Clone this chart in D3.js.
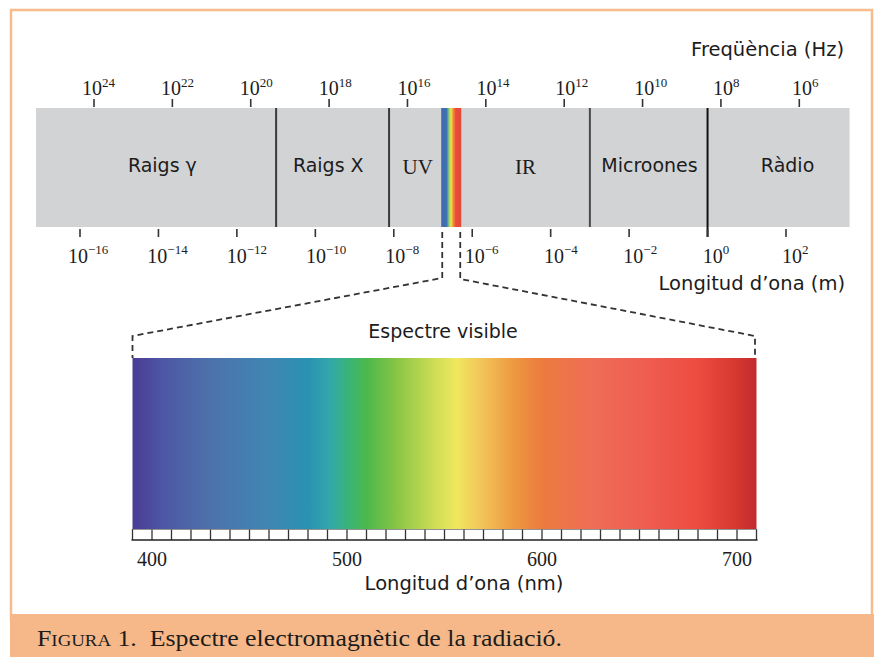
<!DOCTYPE html>
<html><head><meta charset="utf-8">
<script src="https://cdn.jsdelivr.net/npm/d3@7"></script>
<style>body{margin:0;background:#fff}svg{display:block}</style>
</head><body>
<script>
// ---- data ----
const freqExponents = [24, 22, 20, 18, 16, 14, 12, 10, 8, 6];
const waveExponents = [-16, -14, -12, -10, -8, -6, -4, -2, 0, 2];
const bandNames = ["Raigs γ", "Raigs X", "UV", "IR", "Microones", "Ràdio"];
const bandLabelLogL = [-13.9, -9.67, -7.39, -4.64, -1.48, 2.04];
const bandSerif = [false, false, true, true, false, false];
const bandBoundsLogL = [-11, -8.12, -3, 0];
const bandBoundColors = ["#3a3a3a", "#3a3a3a", "#4a4a4a", "#111"];
const barExtentLogL = [-17.12, 3.62];
const visibleStripLogL = [-6.79, -6.28];
const stripOffsets = [0, 0.27, 0.34, 0.42, 0.5, 0.58, 0.72, 1];
const stripColors = ["#3f68b0", "#3f74b0", "#5db0a0", "#b9d84a", "#f2e04c", "#f29a3e", "#e94e38", "#e4473a"];
const nmLabels = [400, 500, 600, 700];
const nmTicks = [390,400,410,420,430,440,450,460,470,480,490,500,510,520,530,540,550,560,570,580,590,600,610,620,630,640,650,660,670,680,690,700,710];
const nmExtent = [390, 710];
const spectrumNm = [390, 405, 430, 460, 480, 492, 500, 510, 525, 545, 556, 568, 585, 600, 625, 655, 680, 700, 710];
const spectrumColors = ["#4a3b96","#4d56a4","#4d72ab","#3f86b3","#2a92b3","#33a8a8","#38b37c","#4cb84b","#86c545","#cfdd56","#efe85e","#f2c75a","#ee9a41","#ec7b3e","#ee6e56","#ef5c50","#ec4c40","#d5372f","#c22b2e"];

const W = 874, H = 657;
const svg = d3.select("body").append("svg").attr("width", W).attr("height", H);

// scales
const xFreq = d3.scaleLinear().domain([24, 6]).range([94, 799.3]);
const xFreqLabel = d3.scaleLinear().domain([24, 6]).range([82, 792]);
const xWave = d3.scaleLinear().domain([-16, 2]).range([80, 786]);
const xWaveLabel = d3.scaleLinear().domain([-16, 2]).range([68, 782]);
const xNm = d3.scaleLinear().domain([400, 700]).range([152, 737]);
const colorNm = d3.scaleLinear().domain(spectrumNm).range(spectrumColors);

const sans = "'DejaVu Sans', Verdana, sans-serif";
const serif = "'Liberation Serif', 'Times New Roman', serif";
const ink = "#1c1c1c";

// frame
const frameCol = "#f7bb8c";
svg.append("rect").attr("x", 11).attr("y", 10).attr("width", 861).attr("height", 610)
  .attr("fill", "#fff").attr("stroke", frameCol).attr("stroke-width", 2.5);
svg.append("rect").attr("x", 10).attr("y", 614).attr("width", 864).attr("height", 43).attr("fill", "#f6b888");

// defs
const defs = svg.append("defs");
const gStrip = defs.append("linearGradient").attr("id", "strip");
gStrip.selectAll("stop").data(stripOffsets).join("stop")
  .attr("offset", d => d).attr("stop-color", (d, i) => stripColors[i]);
const gSpec = defs.append("linearGradient").attr("id", "spec");
gSpec.selectAll("stop").data(spectrumNm).join("stop")
  .attr("offset", d => (d - nmExtent[0]) / (nmExtent[1] - nmExtent[0]))
  .attr("stop-color", d => colorNm(d));

// EM bar
const barTop = 108, barBot = 227;
svg.append("rect").attr("x", xWave(barExtentLogL[0])).attr("y", barTop)
  .attr("width", xWave(barExtentLogL[1]) - xWave(barExtentLogL[0])).attr("height", barBot - barTop)
  .attr("fill", "#d2d3d5");
svg.append("rect").attr("x", xWave(visibleStripLogL[0])).attr("y", barTop)
  .attr("width", xWave(visibleStripLogL[1]) - xWave(visibleStripLogL[0])).attr("height", barBot - barTop)
  .attr("fill", "url(#strip)");

// band boundaries
svg.selectAll(".bound").data(bandBoundsLogL).join("line")
  .attr("x1", d => xWave(d)).attr("x2", d => xWave(d))
  .attr("y1", barTop).attr("y2", (d, i) => i === 3 ? 237 : barBot)
  .attr("stroke", (d, i) => bandBoundColors[i]).attr("stroke-width", 2);

// band labels
svg.selectAll(".band").data(bandNames).join("text")
  .attr("x", (d, i) => xWave(bandLabelLogL[i])).attr("y", (d, i) => bandSerif[i] ? 174 : 172)
  .attr("text-anchor", "middle")
  .attr("font-family", (d, i) => bandSerif[i] ? serif : sans)
  .attr("font-size", (d, i) => bandSerif[i] ? 21 : 19)
  .attr("fill", ink).text(d => d);

// top ticks
svg.selectAll(".ft").data(freqExponents).join("line")
  .attr("x1", d => xFreq(d)).attr("x2", d => xFreq(d)).attr("y1", 99).attr("y2", 107)
  .attr("stroke", "#333").attr("stroke-width", 1.6);
const ftl = svg.selectAll(".ftl").data(freqExponents).join("text")
  .attr("x", d => xFreqLabel(d)).attr("y", 95)
  .attr("font-family", serif).attr("font-size", 20).attr("fill", ink);
ftl.append("tspan").text("10");
ftl.append("tspan").attr("dy", -8).attr("font-size", 13).text(d => d);

// bottom ticks
svg.selectAll(".wt").data(waveExponents).join("line")
  .attr("x1", d => xWave(d)).attr("x2", d => xWave(d)).attr("y1", 229).attr("y2", 237)
  .attr("stroke", "#333").attr("stroke-width", 1.6);
const wtl = svg.selectAll(".wtl").data(waveExponents).join("text")
  .attr("x", d => xWaveLabel(d)).attr("y", 263)
  .attr("font-family", serif).attr("font-size", 20).attr("fill", ink);
wtl.append("tspan").text("10");
wtl.append("tspan").attr("dy", -9).attr("font-size", 13).text(d => d < 0 ? "\u2212" + Math.abs(d) : d);

// axis titles
svg.append("text").attr("x", 844).attr("y", 56).attr("text-anchor", "end")
  .attr("font-family", sans).attr("font-size", 19.5).attr("fill", ink).text("Freqüència (Hz)");
svg.append("text").attr("x", 845).attr("y", 290).attr("text-anchor", "end")
  .attr("font-family", sans).attr("font-size", 19.5).attr("fill", ink).text("Longitud d\u2019ona (m)");

// visible spectrum
const specTop = 358, specBot = 529, tickBot = 540;
const sx0 = xNm(nmExtent[0]), sx1 = xNm(nmExtent[1]);
svg.append("rect").attr("x", sx0).attr("y", specTop).attr("width", sx1 - sx0).attr("height", specBot - specTop)
  .attr("fill", "url(#spec)");

// dashed zoom lines
const zoomPaths = [
  [[xWave(visibleStripLogL[0]) + 1, 232], [xWave(visibleStripLogL[0]) + 1, 278], [sx0, 336], [sx0, specTop]],
  [[xWave(visibleStripLogL[1]) - 1, 232], [xWave(visibleStripLogL[1]) - 1, 279], [sx1 - 1.5, 336], [sx1 - 1.5, specTop]]
];
svg.selectAll(".zp").data(zoomPaths).join("path")
  .attr("d", d => d3.line()(d))
  .attr("stroke", "#333").attr("stroke-width", 1.8).attr("stroke-dasharray", "6,4").attr("fill", "none");

svg.append("text").attr("x", 443).attr("y", 338).attr("text-anchor", "middle")
  .attr("font-family", sans).attr("font-size", 19).attr("fill", ink).text("Espectre visible");

// spectrum tick scale
svg.selectAll(".nt").data(nmTicks).join("line")
  .attr("x1", d => xNm(d)).attr("x2", d => xNm(d)).attr("y1", specBot).attr("y2", tickBot)
  .attr("stroke", "#333").attr("stroke-width", 1.3);
svg.append("line").attr("x1", sx0 - 1).attr("x2", sx1 + 1).attr("y1", tickBot).attr("y2", tickBot)
  .attr("stroke", "#222").attr("stroke-width", 1.6);
svg.append("line").attr("x1", sx0).attr("x2", sx1).attr("y1", specBot + 0.5).attr("y2", specBot + 0.5)
  .attr("stroke", "#777").attr("stroke-width", 0.8);

svg.selectAll(".nl").data(nmLabels).join("text")
  .attr("x", d => xNm(d)).attr("y", 566).attr("text-anchor", "middle")
  .attr("font-family", serif).attr("font-size", 20).attr("fill", ink).text(d => d);

svg.append("text").attr("x", 464).attr("y", 590).attr("text-anchor", "middle")
  .attr("font-family", sans).attr("font-size", 19.5).attr("fill", ink).text("Longitud d\u2019ona (nm)");

// caption
const cap = svg.append("text").attr("x", 37).attr("y", 646)
  .attr("font-family", serif).attr("font-size", 24).attr("fill", ink)
  .attr("textLength", 525).attr("lengthAdjust", "spacingAndGlyphs");
cap.append("tspan").text("F");
cap.append("tspan").attr("font-size", 17.5).text("IGURA");
cap.append("tspan").text(" 1.\u00a0\u00a0Espectre electromagnètic de la radiació.");
</script>
</body></html>
